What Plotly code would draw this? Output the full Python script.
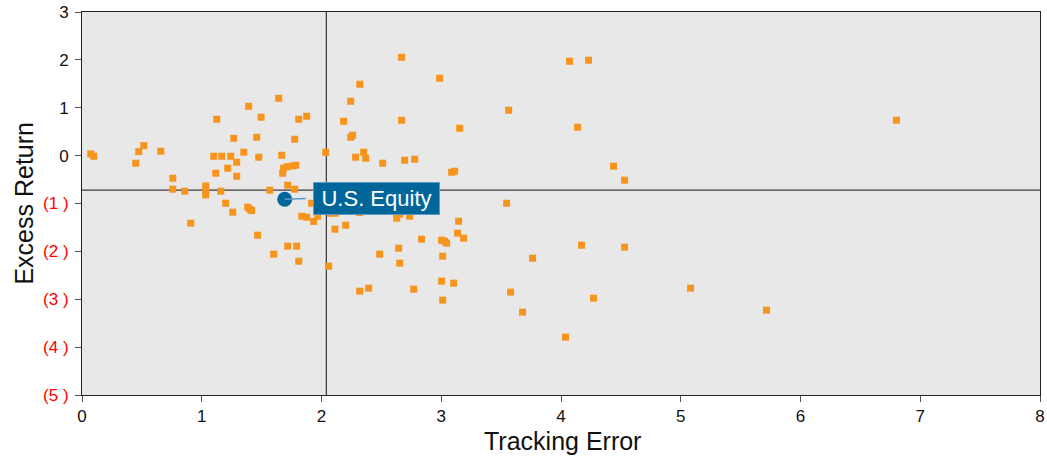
import plotly.graph_objects as go

# Peer funds: tracking error (x) and excess return (y)
tracking_error = [
    0.073, 0.098, 0.449, 0.474, 0.516, 0.658, 0.758, 0.758, 0.858, 0.908,
    1.033, 1.033, 1.033, 1.100, 1.125, 1.117, 1.159, 1.167, 1.200, 1.217,
    1.242, 1.259, 1.267, 1.292, 1.292, 1.351, 1.384, 1.401, 1.417, 1.392,
    1.459, 1.467, 1.476, 1.496, 1.568, 1.601, 1.643, 1.668, 1.676, 1.684,
    1.713, 1.760, 1.785, 1.718, 1.776, 1.718, 1.793, 1.776, 1.810, 1.810,
    1.836, 1.876, 1.935, 1.968, 1.876, 1.918, 2.035, 2.060, 2.074, 2.116,
    2.112, 2.185, 2.202, 2.244, 2.244, 2.260, 2.285, 2.320, 2.319, 2.319,
    2.352, 2.369, 2.394, 2.486, 2.511, 2.628, 2.644, 2.653, 2.653, 2.669,
    2.669, 2.694, 2.736, 2.770, 2.778, 2.836, 2.987, 3.003, 3.028, 3.045,
    3.012, 3.003, 3.012, 3.087, 3.112, 3.104, 3.145, 3.137, 3.154, 3.187,
    3.546, 3.563, 3.579, 3.679, 3.763, 4.038, 4.072, 4.139, 4.172, 4.230,
    4.272, 4.439, 4.531, 4.531, 5.082, 5.716, 6.801,
]
excess_return = [
    0.035, -0.013, -0.159, 0.084, 0.209, 0.092, -0.472, -0.701, -0.743, -1.411,
    -0.633, -0.731, -0.820, -0.013, 0.760, -0.367, -0.743, -0.013, -0.994, -0.263,
    -0.013, -1.182, 0.363, -0.138, -0.430, 0.071, -1.077, -1.119, -1.148, 1.031,
    0.384, -1.662, -0.033, 0.802, -0.722, -2.058, 1.198, 0.008, -0.367, -0.263,
    -0.230, -0.215, -0.200, -0.618, -0.701, -1.891, -1.891, 0.342, 0.760, -2.205,
    -1.265, -1.286, -1.374, -1.265, 0.823, -0.994, 0.071, -2.309, -1.203, -1.203,
    -1.537, 0.718, -1.453, 1.136, 0.384, 0.426, -0.033, 1.491, -1.190, -2.831,
    0.071, -0.054, -2.768, -2.058, -0.159, -1.307, -1.933, -1.223, -2.246, 2.054,
    0.739, -0.096, -1.265, -2.789, -0.075, -1.745, 1.616, -1.766, -1.787, -1.829,
    -2.100, -2.622, -3.019, -0.347, -0.326, -2.664, -1.370, -1.620, 0.572, -1.724,
    -0.994, 0.948, -2.852, -3.269, -2.142, -3.791, 1.971, 0.593, -1.871, 1.992,
    -2.977, -0.221, -0.514, -1.912, -2.768, -3.228, 0.739,
]

# Highlighted fund
highlight_name = "U.S. Equity"
highlight_te = [1.693]
highlight_er = [-0.91]

# Peer averages (crosshair)
avg_te = 2.04
avg_er = -0.72

# Axis ticks and titles
x_title = "Tracking Error"
y_title = "Excess Return"
x_ticks = [0, 1, 2, 3, 4, 5, 6, 7, 8]
y_ticks = [3, 2, 1, 0, -1, -2, -3, -4, -5]
y_ticklabels = ["3", "2", "1", "0",
                "<span style='color:#FF0000'>(1 )</span>",
                "<span style='color:#FF0000'>(2 )</span>",
                "<span style='color:#FF0000'>(3 )</span>",
                "<span style='color:#FF0000'>(4 )</span>",
                "<span style='color:#FF0000'>(5 )</span>"]

ORANGE = "#F7941D"
BLUE = "#00669A"
FONT = "Liberation Sans, Arial, sans-serif"

fig = go.Figure()

fig.add_trace(go.Scatter(
    x=tracking_error, y=excess_return, mode="markers",
    marker=dict(symbol="square", size=7, color=ORANGE, line=dict(width=0)),
    hoverinfo="x+y", showlegend=False, cliponaxis=False,
))

# crosshair lines
fig.add_shape(type="line", xref="x", yref="paper", x0=avg_te, x1=avg_te, y0=0, y1=1,
              line=dict(color="#111111", width=1), layer="below")
fig.add_shape(type="line", xref="paper", yref="y", x0=0, x1=1, y0=avg_er, y1=avg_er,
              line=dict(color="#111111", width=1), layer="below")

fig.add_trace(go.Scatter(
    x=highlight_te, y=highlight_er, mode="markers",
    marker=dict(symbol="circle", size=15, color=BLUE, line=dict(width=0)),
    hoverinfo="x+y", showlegend=False,
))

fig.add_annotation(
    x=highlight_te[0], y=highlight_er[0], xref="x", yref="y",
    text=highlight_name, showarrow=True, arrowhead=0, arrowwidth=1.5,
    arrowcolor="#5B9BC9", ax=28, ay=-1, xanchor="left", yanchor="middle",
    width=121, height=27, align="center", valign="middle",
    bgcolor=BLUE, bordercolor="#5B9BC9", borderwidth=1, borderpad=2,
    font=dict(family=FONT, size=22, color="white"), standoff=0, startstandoff=7,
)

# axis titles
fig.add_annotation(text=x_title, xref="paper", yref="paper", x=0.5016, y=-0.12,
                   xanchor="center", yanchor="middle", showarrow=False,
                   font=dict(family=FONT, size=25, color="#111111"))
fig.add_annotation(text=y_title, xref="paper", yref="paper", x=-0.0615, y=0.5,
                   xanchor="center", yanchor="middle", showarrow=False, textangle=-90,
                   font=dict(family=FONT, size=25, color="#111111"))

fig.update_layout(
    width=1047, height=460,
    margin=dict(l=82, r=7, t=12, b=65),
    paper_bgcolor="white", plot_bgcolor="#E8E8E8",
    font=dict(family=FONT, size=17, color="#111111"),
    showlegend=False,
)
fig.update_xaxes(
    range=[0, 8], tickvals=x_ticks, ticktext=[str(v) for v in x_ticks],
    showgrid=False, zeroline=False, showline=True, linecolor="#222222", linewidth=1,
    mirror=True, ticks="outside", ticklen=6, tickcolor="#555555",
    automargin=False, ticklabeloverflow="allow", tickfont=dict(size=17),
)
fig.update_yaxes(
    range=[-5, 3], tickvals=y_ticks, ticktext=y_ticklabels,
    showgrid=False, zeroline=False, showline=True, linecolor="#222222", linewidth=1,
    mirror=True, ticks="outside", ticklen=6, tickcolor="#555555", ticklabelstandoff=3,
    automargin=False, ticklabeloverflow="allow", tickfont=dict(size=17),
)

fig.write_html(
    "out.html",
    config={"displayModeBar": False},
    post_script="document.body.style.margin='0';document.body.style.padding='0';",
)
